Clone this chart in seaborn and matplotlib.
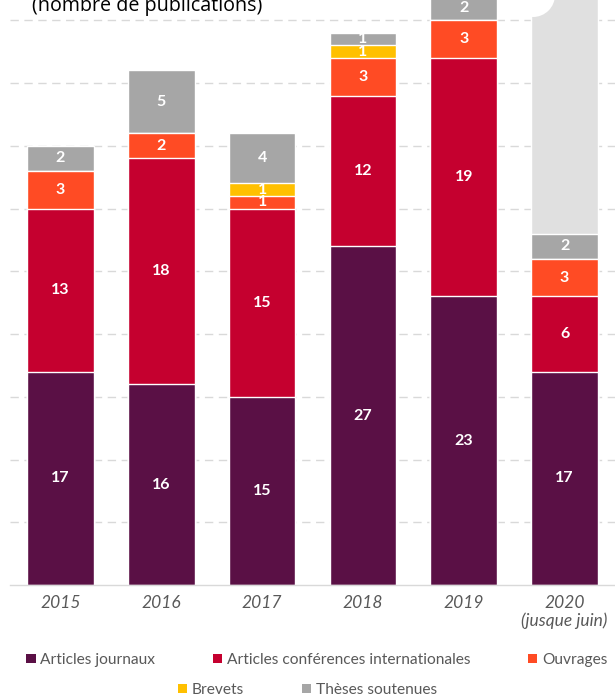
import numpy as np
import matplotlib
matplotlib.use("Agg")
import matplotlib.pyplot as plt
import seaborn as sns
from matplotlib.patches import Patch, Circle

# Data
years = ["2015", "2016", "2017", "2018", "2019", "2020"]
tick_labels = ["2015", "2016", "2017", "2018", "2019", "2020\n(jusque juin)"]
series_names = ["Articles journaux", "Articles conférences internationales",
                "Ouvrages", "Brevets", "Thèses soutenues"]
journaux = [17, 16, 15, 27, 23, 17]
conferences = [13, 18, 15, 12, 19, 6]
ouvrages = [3, 2, 1, 3, 3, 3]
brevets = [0, 0, 1, 1, 0, 0]
theses = [2, 5, 4, 1, 2, 2]
colors = ["#5a1045", "#c5002f", "#ff4b24", "#ffc000", "#a6a6a6"]
bg_color = "#e0e0e0"

sns.set_theme(style="white")
plt.rcParams["font.family"] = ["Lato", "DejaVu Sans"]

fig = plt.figure(figsize=(6.15, 7.0), dpi=100)
ax = fig.add_axes([10 / 615, 1 - 585 / 700, 1 - 10 / 615, 585 / 700])

layers = np.array([journaux, conferences, ouvrages, brevets, theses])
cum = layers.cumsum(axis=0)
bar_w = 0.66

# light grey placeholder bar behind 2020
bg = [0, 0, 0, 0, 0, 60]
sns.barplot(x=years, y=bg, color=bg_color, saturation=1, width=bar_w, ax=ax)

# stacked bars: draw cumulative totals from top layer down
for i in range(len(series_names) - 1, -1, -1):
    sns.barplot(x=years, y=cum[i], color=colors[i], saturation=1,
                width=bar_w, ax=ax)

# value labels
bottoms = np.vstack([np.zeros(len(years)), cum[:-1]])
for i in range(len(series_names)):
    for j in range(len(years)):
        v = layers[i, j]
        if v > 0:
            ax.text(j, bottoms[i, j] + v / 2, str(v), ha="center", va="center",
                    color="white", fontsize=11.5, fontweight="bold",
                    clip_on=False, zorder=5)

ax.set_xlim(-0.5, 5.5)
ax.set_ylim(0, 585 / 12.55)
ax.set_yticks(np.arange(5, 50, 5))
ax.yaxis.grid(True, color="#d9d9d9", linestyle=(0, (6, 4)), linewidth=1)
ax.set_axisbelow(True)
ax.set_yticklabels([])
ax.tick_params(axis="y", length=0)
ax.set_xlabel("")
ax.set_ylabel("")
for s in ["top", "right", "left"]:
    ax.spines[s].set_visible(False)
ax.spines["bottom"].set_color("#d9d9d9")
ax.spines["bottom"].set_linewidth(1)
ax.set_xticks(range(len(years)))
ax.set_xticklabels(tick_labels, fontstyle="italic", color="#595959",
                   fontsize=12.5, linespacing=1.1)
ax.tick_params(axis="x", length=0, pad=7)

# white rounded corner overlapping the top of the 2020 bar
fig.patches.append(Circle((533, 700 + 5), 22, transform=None,
                          facecolor="white", edgecolor="none", zorder=10))

# cut-off title
fig.text(32 / 615, 1 - 11 / 700, "(nombre de publications)", fontsize=14.2,
         color="#000000", ha="left", va="baseline",
         family=["Open Sans", "DejaVu Sans"])

# legend in two centred rows
handles = [Patch(facecolor=c, edgecolor="none") for c in colors]
leg_kw = dict(frameon=False, fontsize=11.2, handlelength=0.6, handleheight=0.6,
              handletextpad=0.3, columnspacing=3.7, labelcolor="#595959")
fig.legend(handles[:3], series_names[:3], ncol=3, loc="center",
           bbox_to_anchor=(0.515, 1 - 660 / 700), **leg_kw)
fig.legend(handles[3:], series_names[3:], ncol=2, loc="center",
           bbox_to_anchor=(0.5, 1 - 690 / 700), **leg_kw)

fig.savefig("out.png", dpi=100)
